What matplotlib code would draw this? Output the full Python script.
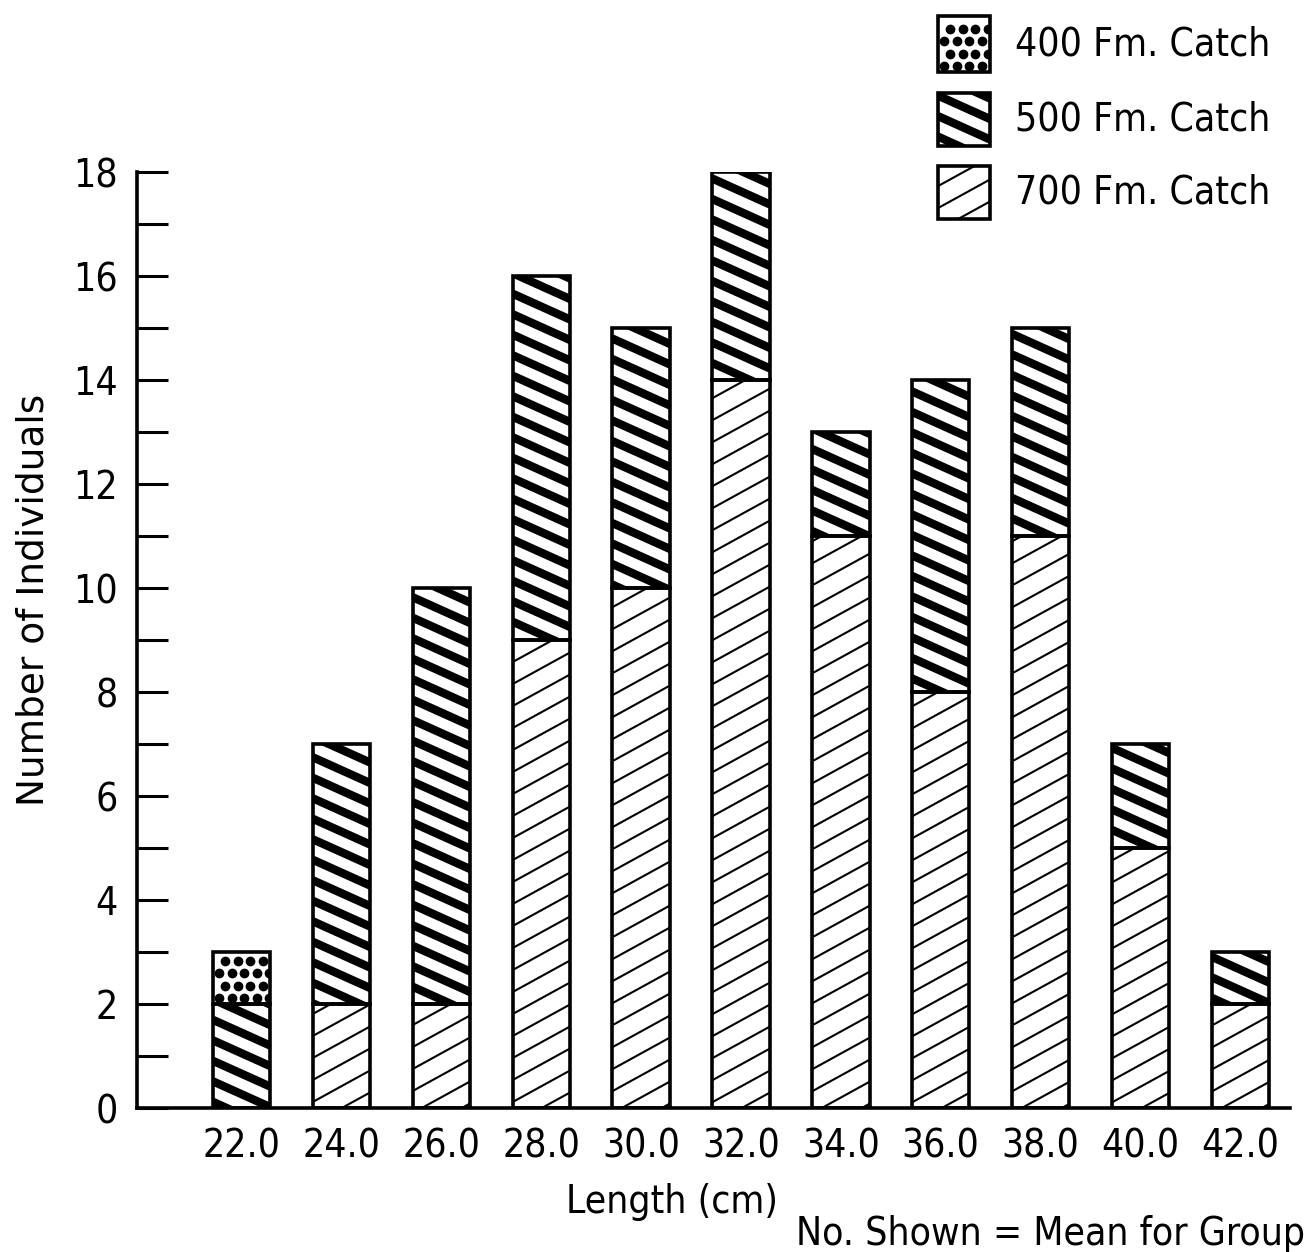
import matplotlib.pyplot as plt
import numpy as np
from matplotlib.collections import LineCollection
from matplotlib.patches import Rectangle

# Length classes (cm) and number of individuals per catch depth
lengths = [22.0, 24.0, 26.0, 28.0, 30.0, 32.0, 34.0, 36.0, 38.0, 40.0, 42.0]
catch_700 = [0, 2, 2, 9, 10, 14, 11, 8, 11, 5, 2]
catch_500 = [2, 5, 8, 7, 5, 4, 2, 6, 4, 2, 1]
catch_400 = [1, 0, 0, 0, 0, 0, 0, 0, 0, 0, 0]
tick_labels = ["22.0", "24.0", "26.0", "28.0", "30.0", "32.0", "34.0",
               "36.0", "38.0", "40.0", "42.0"]
legend_labels = ["400 Fm. Catch", "500 Fm. Catch", "700 Fm. Catch"]

plt.rcParams['font.family'] = ['DejaVu Sans']
plt.rcParams['font.stretch'] = 'condensed'

fig = plt.figure(figsize=(13.13, 12.52), dpi=100)
ax = fig.add_axes([0.1043, 0.115, 0.8783, 0.7476])
ax.set_xlim(19.9, 43.0)
ax.set_ylim(0, 18)


def stripes(axis, patch, slope, period, lw, up):
    # hatch lines laid out in pixel space, clipped to the patch
    bb = patch.get_window_extent()
    x0, x1, y0, y1 = bb.x0 - 2, bb.x1 + 2, bb.y0, bb.y1
    s = slope if up else -slope
    lo = min(y0 - s * x0, y0 - s * x1) - period
    hi = max(y1 - s * x0, y1 - s * x1) + period
    segs = []
    for b in np.arange(np.floor(lo / period) * period, hi, period):
        segs.append([(x0, b + s * x0), (x1, b + s * x1)])
    inv = axis.transData.inverted()
    segs = [inv.transform(np.array(sg)) for sg in segs]
    lc = LineCollection(segs, colors='black', linewidths=lw, capstyle='butt',
                        transform=axis.transData, zorder=2)
    axis.add_collection(lc)
    lc.set_clip_path(patch)


def dots(axis, patch, step=12.5, ms=6.0):
    bb = patch.get_window_extent()
    pts = []
    for i, yy in enumerate(np.arange(bb.y0 + 6, bb.y1, step)):
        off = 0 if i % 2 == 0 else step / 2
        for xx in np.arange(bb.x0 + 6 + off, bb.x1, step):
            pts.append((xx, yy))
    pts = axis.transData.inverted().transform(np.array(pts))
    ln, = axis.plot(pts[:, 0], pts[:, 1], 'o', color='black', ms=ms, zorder=2)
    ln.set_clip_path(patch)


def hatch_700(axis, p):
    stripes(axis, p, 0.55, 22, 1.5, up=True)


def hatch_500(axis, p):
    stripes(axis, p, 0.45, 20.5, 6.0, up=False)


def hatch_400(axis, p):
    dots(axis, p)


x = np.array(lengths)
width = 1.15
bottom = np.zeros(len(x))
for vals, fn in [(catch_700, hatch_700), (catch_500, hatch_500), (catch_400, hatch_400)]:
    v = np.array(vals, dtype=float)
    keep = v > 0
    bars = ax.bar(x[keep], v[keep], width, bottom=bottom[keep], facecolor='none',
                  edgecolor='black', linewidth=2.6, zorder=3)
    for p in bars:
        fn(ax, p)
    bottom = bottom + v

# axes styling
for side in ['top', 'right']:
    ax.spines[side].set_visible(False)
ax.spines['left'].set_linewidth(2.6)
ax.spines['bottom'].set_linewidth(2.6)
ax.set_yticks(range(0, 19))
ax.set_yticklabels([str(i) if i % 2 == 0 else '' for i in range(0, 19)])
ax.tick_params(axis='y', direction='in', length=22, width=2.2, pad=14, labelsize=28)
ax.set_xticks(x)
ax.set_xticklabels(tick_labels)
ax.tick_params(axis='x', length=0, pad=14, labelsize=28)

ax.set_ylabel("Number of Individuals", fontsize=27, stretch='normal')
ax.yaxis.label.set_va('center')
ax.yaxis.set_label_coords(-0.090, 0.543)
ax.set_xlabel("Length (cm)", fontsize=28)
ax.xaxis.label.set_va('baseline')
ax.xaxis.set_label_coords(0.464, -0.112)
fig.text(0.9939, 0.0056, "No. Shown = Mean for Group", fontsize=28,
         ha='right', va='baseline')

# legend drawn in pixel coordinates on an overlay axes
lax = fig.add_axes([0, 0, 1, 1], facecolor='none')
lax.set_xlim(0, 1313)
lax.set_ylim(1252, 0)
lax.axis('off')
boxes = [(938, 16, 52, 56), (938, 93, 52, 53), (938, 166, 52, 53)]
for (bx, by, bw, bh), fn, lab in zip(boxes, [hatch_400, hatch_500, hatch_700], legend_labels):
    r = Rectangle((bx, by), bw, bh, facecolor='none', edgecolor='black',
                  linewidth=2.6, zorder=3)
    lax.add_patch(r)
    fn(lax, r)
    lax.text(1015, by + bh / 2, lab, fontsize=28, ha='left', va='center')

fig.savefig("out.png", dpi=100)
